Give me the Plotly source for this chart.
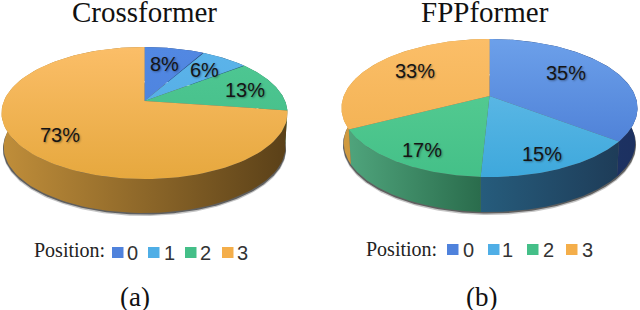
import numpy as np
import plotly.graph_objects as go

# ---- data ----
titles = ["Crossformer", "FPPformer"]
captions = ["(a)", "(b)"]
positions = ["0", "1", "2", "3"]
crossformer = [8.0, 6.4, 12.9, 72.7]
fppformer = [35.4, 15.4, 16.6, 32.6]

# ---- styles / layout ----
TOP = {
    "a": [["#5288e2", "#4a80dc"], ["#5cb4ea", "#4fa8e2"], ["#4fc894", "#42bb84"], ["#fbbe68", "#e6a83e"]],
    "b": [["#6ca0ea", "#4678d2"], ["#6cc0ea", "#3ea8dc"], ["#5cd096", "#44c088"], ["#fbbe68", "#f0ae4c"]],
}
SIDE = {
    "a": [["#24406f", "#24406f"], ["#24506f", "#24506f"], ["#2a6a4c", "#2a6a4c"], ["#c08e3a", "#5a4018"]],
    "b": [["#1e3c70", "#1c3060"], ["#265c7c", "#1e3c58"], ["#4fa47c", "#2a6c4c"], ["#d09a40", "#c08e3a"]],
}
GEOM = {
    "a": dict(cx=144.5, ay=101, up=54, down=78, half=143, depth=34),
    "b": dict(cx=489.5, ay=96, up=57, down=81, half=148, depth=35),
}
PCT_POS = {
    "a": [(164, 64), (204, 70), (245, 90), (60, 135)],
    "b": [(566, 73), (542, 154), (422, 150), (415, 71)],
}
TITLE_X = {"a": 144.5, "b": 484.5}
CAP_X = {"a": 135, "b": 481}
POS_TXT = {"a": (69, 250), "b": (401, 249)}
KEY_X = {"a": [112, 148, 185, 222], "b": [447, 488, 527, 566]}
KEY_Y = {"a": 247, "b": 244}
DIGIT_X = {"a": [132.5, 169, 205.5, 242.5], "b": [468.5, 507, 548, 587]}
KEY_COL = ["#4f82dc", "#4faee6", "#44bf88", "#f4ae4a"]


def project(theta, g):
    """Perspective view of a unit disc: pixel offsets from the apex."""
    k = (g["down"] - g["up"]) / (g["down"] + g["up"])
    a_ = g["up"] * (1 + k)
    c_ = g["half"] * np.sqrt(1 - k * k)
    d = 1 + k * np.cos(theta)
    return c_ * np.sin(theta) / d, a_ * np.cos(theta) / d


fig = go.Figure()


def add_pie(key, values):
    g = GEOM[key]
    edges = np.cumsum([0] + list(values)) / sum(values) * 2 * np.pi
    full = np.linspace(0, 2 * np.pi, 361)
    fx, fy = project(full, g)

    # soft ground shadow
    for off, col in [(3.0, "rgba(90,90,90,0.35)"), (1.6, "rgba(60,60,60,0.75)")]:
        fig.add_trace(go.Scatter(
            x=g["cx"] + fx * 0.99, y=g["ay"] - fy + g["depth"] + off,
            mode="lines", line=dict(width=0), fill="toself", fillcolor=col,
            hoverinfo="skip", showlegend=False))

    # side walls
    for i in range(len(values)):
        t = np.linspace(edges[i], edges[i + 1], 120)
        X, Y = project(t, g)
        xs = np.r_[g["cx"] + X, (g["cx"] + X * 0.985)[::-1]]
        ys = np.r_[g["ay"] - Y, (g["ay"] - Y + g["depth"])[::-1]]
        fig.add_trace(go.Scatter(
            x=xs, y=ys, mode="lines", line=dict(width=0), fill="toself",
            fillgradient=dict(type="horizontal",
                              start=float(xs.min()), stop=float(xs.max()),
                              colorscale=[[0, SIDE[key][i][0]], [1, SIDE[key][i][1]]]),
            hoverinfo="skip", showlegend=False))

    # top faces
    for i in range(len(values)):
        t = np.linspace(edges[i], edges[i + 1], 120)
        X, Y = project(t, g)
        fig.add_trace(go.Scatter(
            x=np.r_[g["cx"], g["cx"] + X, g["cx"]],
            y=np.r_[g["ay"], g["ay"] - Y, g["ay"]],
            mode="lines", line=dict(width=0), fill="toself",
            fillgradient=dict(type="vertical", start=g["ay"] - g["up"], stop=g["ay"] + g["down"],
                              colorscale=[[0, TOP[key][i][0]], [1, TOP[key][i][1]]]),
            hoverinfo="skip", showlegend=False))


add_pie("a", crossformer)
add_pie("b", fppformer)

ann, shapes = [], []
SERIF = "Liberation Serif"
SANS = "Liberation Sans"


def txt(x, y, s, size, fam, col="#111111", shadow=None):
    f = dict(family=fam, size=size, color=col)
    if shadow:
        f["shadow"] = shadow
    ann.append(dict(x=x, y=y, xref="x", yref="y", text=s, showarrow=False,
                    xanchor="center", yanchor="middle", font=f))


for key, title, cap, values in zip("ab", titles, captions, [crossformer, fppformer]):
    txt(TITLE_X[key], 12, title, 29, SERIF)
    txt(CAP_X[key], 297, cap, 27, SERIF)
    txt(POS_TXT[key][0], POS_TXT[key][1], "Position:", 20, SERIF, "#222222")
    for v, (px, py) in zip(values, PCT_POS[key]):
        txt(px, py, f"{round(v)}%", 20, SANS, "#151515", "1px 1px 2px rgba(0,0,0,0.35)")
    for p, kx, dx, col in zip(positions, KEY_X[key], DIGIT_X[key], KEY_COL):
        shapes.append(dict(type="rect", xref="x", yref="y", x0=kx, x1=kx + 11.5,
                           y0=KEY_Y[key], y1=KEY_Y[key] + 11, fillcolor=col, line=dict(width=0)))
        txt(dx, KEY_Y[key] + 6, p, 20, SANS, "#333333")

fig.update_layout(
    width=640, height=310, margin=dict(l=0, r=0, t=0, b=0),
    paper_bgcolor="white", plot_bgcolor="white", showlegend=False,
    xaxis=dict(range=[0, 640], visible=False, fixedrange=True),
    yaxis=dict(range=[310, 0], visible=False, fixedrange=True),
    annotations=ann, shapes=shapes,
)
fig.write_html("out.html", config=dict(displayModeBar=False),
               post_script="document.body.style.margin='0';document.documentElement.style.overflow='hidden';")
